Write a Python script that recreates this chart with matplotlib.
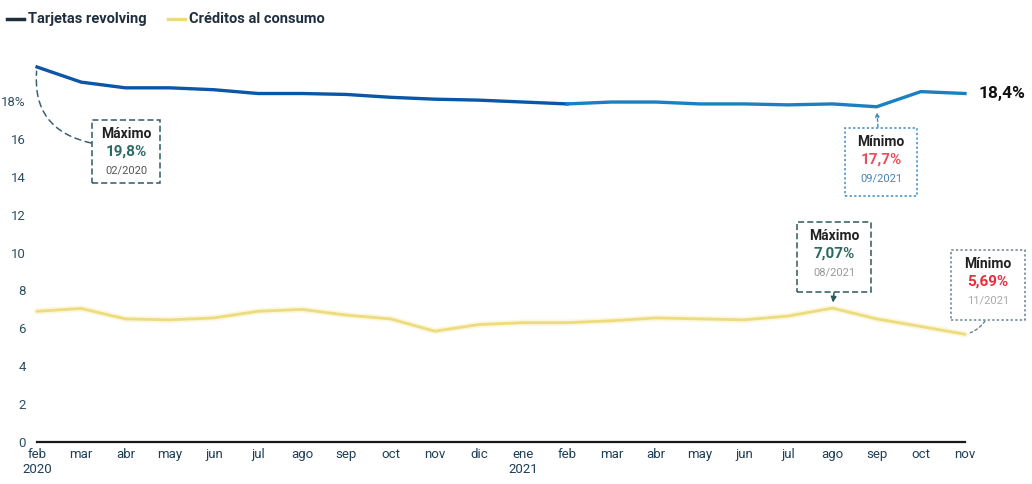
import matplotlib
matplotlib.use("Agg")
import matplotlib.pyplot as plt
from matplotlib.patches import Rectangle
from matplotlib.lines import Line2D

months = ["feb", "mar", "abr", "may", "jun", "jul", "ago", "sep", "oct", "nov", "dic",
          "ene", "feb", "mar", "abr", "may", "jun", "jul", "ago", "sep", "oct", "nov"]
years = {0: "2020", 11: "2021"}
revolving = [19.8, 19.0, 18.7, 18.7, 18.6, 18.4, 18.4, 18.35, 18.2, 18.1, 18.05,
             17.95, 17.85, 17.95, 17.95, 17.85, 17.85, 17.8, 17.85, 17.7, 18.5, 18.4]
consumo = [6.9, 7.05, 6.5, 6.45, 6.55, 6.9, 7.0, 6.7, 6.5, 5.85, 6.2,
           6.3, 6.3, 6.4, 6.55, 6.5, 6.45, 6.65, 7.07, 6.5, 6.1, 5.69]
yticks = [0, 2, 4, 6, 8, 10, 12, 14, 16, 18]

W, H = 1032, 484
plt.rcParams['font.family'] = ['Roboto', 'DejaVu Sans']
fig = plt.figure(figsize=(W / 100, H / 100), dpi=100)

def px(x, y):
    return (x / W, 1 - y / H)

x0, x1 = 37, 965
y0 = 442
ppu = 18.94
ytop = 20.5
ax = fig.add_axes([x0 / W, (H - y0) / H, (x1 - x0) / W, ytop * ppu / H])
ax.set_xlim(0, 21)
ax.set_ylim(0, ytop)

x = list(range(len(months)))
dark_blue = "#0b56a6"
light_blue = "#1b80c2"
yellow = "#ecdc7e"

# yellow with soft glow
ax.plot(x, consumo, color="#fcf7dc", lw=4.5, solid_capstyle="round", clip_on=False, zorder=2)
ax.plot(x, consumo, color=yellow, lw=2.0, solid_capstyle="round", clip_on=False, zorder=3)
ax.plot(x[:13], revolving[:13], color=dark_blue, lw=2.4, clip_on=False, zorder=3)
ax.plot(x[12:], revolving[12:], color=light_blue, lw=2.4, clip_on=False, zorder=3)

for s in ["top", "right", "left"]:
    ax.spines[s].set_visible(False)
ax.spines["bottom"].set_color("#1a1a1a")
ax.spines["bottom"].set_linewidth(1.6)

ax.set_yticks(yticks)
ax.set_yticklabels([f"{v}%" if v == 18 else str(v) for v in yticks],
                   fontsize=9.5, color="#2c4f62")
ax.tick_params(axis="y", length=0, pad=8)
ax.set_xticks(x)
ax.set_xticklabels([m + ("\n" + years[i] if i in years else "") for i, m in enumerate(months)],
                   fontsize=9.5, color="#1f3f55", linespacing=1.25)
ax.tick_params(axis="x", length=0, pad=4)

# end label
ax.annotate("18,4%", xy=(x[-1], revolving[-1]), xytext=(10, 0), textcoords="offset points",
            fontsize=12.5, fontweight="bold", color="#111111", va="center", ha="left",
            annotation_clip=False)

# legend
fig.add_artist(Line2D([7 / W, 24 / W], [1 - 19 / H] * 2, color="#1f2f3f", lw=2.5))
fig.text(*px(28, 19), "Tarjetas revolving", fontsize=10.5, fontweight="semibold",
         color="#1f2f3f", va="center", ha="left")
fig.add_artist(Line2D([168 / W, 185 / W], [1 - 19 / H] * 2, color=yellow, lw=2.5))
fig.text(*px(189, 19), "Créditos al consumo", fontsize=10.5, fontweight="semibold",
         color="#1f2f3f", va="center", ha="left")

def box(l, t, r, b, title, value, date, edge, vcolor, dcolor, ls):
    fig.add_artist(Rectangle(px(l, b), (r - l) / W, (b - t) / H, transform=fig.transFigure,
                             fill=True, facecolor="white", edgecolor=edge, lw=1.1,
                             linestyle=ls, zorder=5))
    cx = (l + r) / 2
    fig.text(*px(cx, t + 14), title, fontsize=10, fontweight="semibold", color="#222222",
             ha="center", va="center", zorder=6)
    fig.text(*px(cx, t + 32), value, fontsize=11, fontweight="bold", color=vcolor,
             ha="center", va="center", zorder=6)
    fig.text(*px(cx, t + 50), date, fontsize=8, color=dcolor,
             ha="center", va="center", zorder=6)

teal = "#2b6a64"
box(92, 120, 160, 183, "Máximo", "19,8%", "02/2020", "#2f5a66", teal, "#555555", (0, (4, 2)))
box(845, 128, 917, 196, "Mínimo", "17,7%", "09/2021", "#3a8cc6", "#e8505e", "#4a86b8", (0, (1.5, 1.5)))
box(797, 222, 871, 292, "Máximo", "7,07%", "08/2021", "#2f5a58", teal, "#999999", (0, (4, 2)))
box(951, 250, 1025, 320, "Mínimo", "5,69%", "11/2021", "#6a7f94", "#ee2a3c", "#aaaaaa", (0, (1.5, 1.5)))

# connectors
ax.annotate("", xy=(x[0], revolving[0]), xytext=px(91, 143), textcoords="figure fraction",
            arrowprops=dict(arrowstyle="-", color="#3a6070", lw=1.1, linestyle=(0, (4, 3)),
                            connectionstyle="arc3,rad=-0.45", shrinkA=0, shrinkB=3),
            annotation_clip=False, zorder=4)
ax.annotate("", xy=(x[19], revolving[19]), xytext=px(878, 127), textcoords="figure fraction",
            arrowprops=dict(arrowstyle="-|>", color="#3a8cc6", lw=1.0, linestyle=(0, (2, 2)),
                            mutation_scale=6, shrinkA=0, shrinkB=4),
            annotation_clip=False, zorder=4)
ax.annotate("", xy=(x[18], consumo[18]), xytext=px(834, 293), textcoords="figure fraction",
            arrowprops=dict(arrowstyle="-|>", color="#2f5a58", lw=1.1,
                            mutation_scale=8, shrinkA=0, shrinkB=4),
            annotation_clip=False, zorder=4)
ax.annotate("", xy=(x[21], consumo[21]), xytext=px(985, 321), textcoords="figure fraction",
            arrowprops=dict(arrowstyle="-", color="#6a7f94", lw=1.0, linestyle=(0, (2, 2)),
                            connectionstyle="arc3,rad=-0.2", shrinkA=0, shrinkB=4),
            annotation_clip=False, zorder=4)

fig.savefig("out.png", dpi=100, facecolor="white")
